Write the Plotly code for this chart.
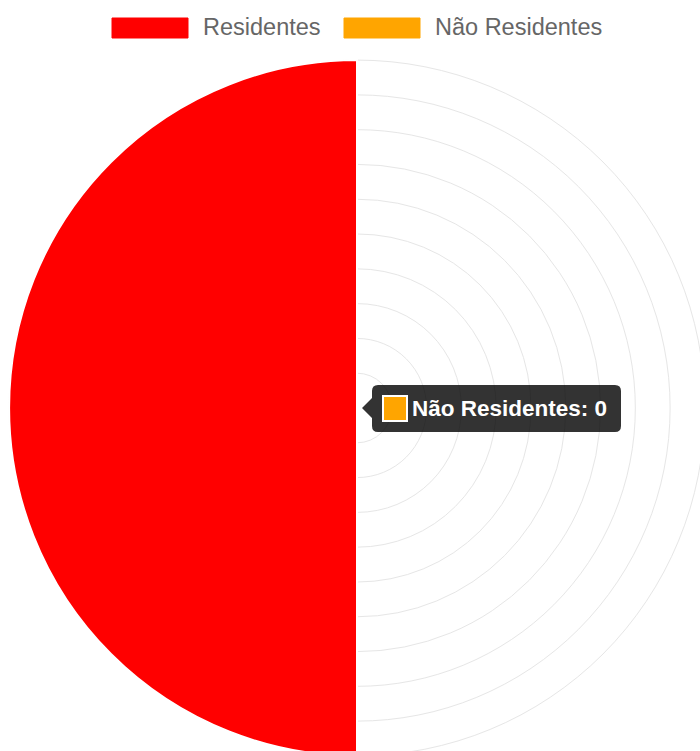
import plotly.graph_objects as go

# ---- data ----
categories = ["Residentes", "Não Residentes"]
values = [100, 0]
colors = ["#ff0000", "#ffa500"]
radial_max = 100
radial_step = 10
tooltip_index = 1

# ---- canvas geometry ----
W, H = 712, 760
def X(px):
    return px / W
def Y(py):
    return 1 - py / H

n = len(categories)
sector = 360 / n
theta = [(270 + i * sector) % 360 for i in range(n)]

fig = go.Figure()
fig.add_trace(go.Barpolar(
    r=values,
    theta=theta,
    width=[sector] * n,
    marker=dict(color=colors, line=dict(color="#ffffff", width=2)),
    name="",
    hoverinfo="skip",
    showlegend=False,
))

FONT = "Liberation Sans, Arial, Helvetica, sans-serif"

shapes = []
annotations = []

# legend (custom, Chart.js style wide boxes)
legend_boxes = [(112, 188, 203), (344, 420, 435)]
for (x0, x1, tx), cat, col in zip(legend_boxes, categories, colors):
    shapes.append(dict(type="rect", xref="paper", yref="paper",
                       x0=X(x0), x1=X(x1), y0=Y(38), y1=Y(18),
                       fillcolor=col, line=dict(color=col, width=1)))
    annotations.append(dict(text=cat, xref="paper", yref="paper",
                            x=X(tx - 2), y=Y(27), xanchor="left", yanchor="middle",
                            showarrow=False, font=dict(family=FONT, size=23.5, color="#666666")))

# tooltip box (rounded rect with caret on the left)
bx0, bx1, by0, by1, rr = 372, 621, 385, 432, 6
cy = 408
tip = 362
pts = [
    f"M {X(bx0 + rr)},{Y(by0)}",
    f"L {X(bx1 - rr)},{Y(by0)}",
    f"Q {X(bx1)},{Y(by0)} {X(bx1)},{Y(by0 + rr)}",
    f"L {X(bx1)},{Y(by1 - rr)}",
    f"Q {X(bx1)},{Y(by1)} {X(bx1 - rr)},{Y(by1)}",
    f"L {X(bx0 + rr)},{Y(by1)}",
    f"Q {X(bx0)},{Y(by1)} {X(bx0)},{Y(by1 - rr)}",
    f"L {X(bx0)},{Y(cy + 10)}",
    f"L {X(tip)},{Y(cy)}",
    f"L {X(bx0)},{Y(cy - 10)}",
    f"L {X(bx0)},{Y(by0 + rr)}",
    f"Q {X(bx0)},{Y(by0)} {X(bx0 + rr)},{Y(by0)}",
    "Z",
]
shapes.append(dict(type="path", xref="paper", yref="paper", path=" ".join(pts),
                   fillcolor="rgba(0,0,0,0.8)", line=dict(width=0)))
shapes.append(dict(type="rect", xref="paper", yref="paper",
                   x0=X(383), x1=X(407), y0=Y(421), y1=Y(396),
                   fillcolor=colors[tooltip_index], line=dict(color="#ffffff", width=2)))
annotations.append(dict(text=f"<b>{categories[tooltip_index]}: {values[tooltip_index]}</b>",
                        xref="paper", yref="paper", x=X(410), y=Y(cy),
                        xanchor="left", yanchor="middle", showarrow=False,
                        font=dict(family=FONT, size=22.5, color="#ffffff")))

fig.update_layout(
    width=W, height=H,
    margin=dict(l=0, r=0, t=0, b=0),
    paper_bgcolor="#ffffff",
    plot_bgcolor="#ffffff",
    showlegend=False,
    polar=dict(
        domain=dict(x=[X(7), X(707)], y=[Y(758), Y(58)]),
        bgcolor="#ffffff",
        angularaxis=dict(rotation=90, direction="clockwise", showticklabels=False,
                         ticks="", showgrid=False, showline=False,
                         layer="below traces"),
        radialaxis=dict(range=[0, radial_max * 1.006], dtick=radial_step, tick0=0,
                        showticklabels=False, ticks="", showline=False,
                        gridcolor="#e6e6e6", gridwidth=1, layer="below traces"),
    ),
    shapes=shapes,
    annotations=annotations,
)

fig.write_html("out.html", config={"displayModeBar": False},
               post_script="document.body.style.margin='0';document.body.style.overflow='hidden';")
